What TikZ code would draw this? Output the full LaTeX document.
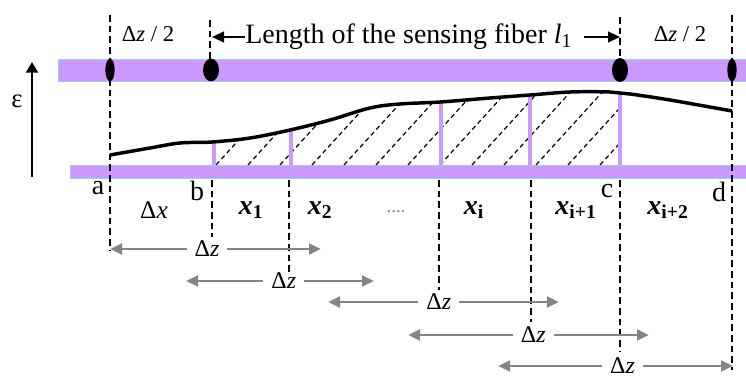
\documentclass[tikz,border=0pt]{standalone}
\usepackage{fontspec}
\setmainfont{Liberation Serif}
\usetikzlibrary{arrows.meta,shapes.geometric}
\definecolor{fib}{HTML}{CC99FF}
\definecolor{fibedge}{HTML}{99CCFF}
\definecolor{dzgray}{HTML}{858585}
\tikzset{
  bar/.style={fill=fib, draw=fibedge, line width=0.6pt},
  guide/.style={line width=1.3pt, dash pattern=on 5pt off 3pt},
  seg/.style={draw=fib, line width=2.4pt},
  hatchline/.style={line width=0.9pt, dash pattern=on 3.5pt off 2.5pt},
  dotnode/.style={ellipse, fill=black, inner sep=0pt},
  dzarrow/.style={draw=dzgray, line width=2.2pt, {Triangle[length=9pt,width=8pt]}-{Triangle[length=9pt,width=8pt]}},
  dzlabel/.style={fill=white, inner xsep=6pt, inner ysep=0pt, font=\fontsize{18}{18}\selectfont},
  lbl/.style={inner sep=0pt, font=\fontsize{21}{21}\selectfont},
  xlbl/.style={inner sep=0pt, font=\fontsize{21}{21}\selectfont\bfseries},
  halfz/.style={inner sep=0pt, font=\fontsize{17}{17}\selectfont},
  blackarrow/.style={line width=1.6pt, -{Triangle[length=9pt,width=8pt]}}
}
\begin{document}
\begin{tikzpicture}[x=0.75pt,y=-0.75pt]
\useasboundingbox (0,0) rectangle (746,379);
% bars
\draw[bar] (58,59) rectangle (746,81);
\draw[bar] (70,165) rectangle (746,178);
% hatching
\begin{scope}
  \clip (214,0) rectangle (620,165);
  \clip plot[smooth, tension=0.6] coordinates {(110,155) (150,148) (180,143) (212,142) (250,138) (290,130) (330,120) (370,108) (400,104) (440,102) (490,98) (530,95) (570,92) (610,92) (630,94) (670,100) (732,111)} -- (732,165) -- (110,165) -- cycle;
  \foreach \s in {120,152,...,620} \draw[hatchline] (\s,165) -- ++(100,-110);
\end{scope}
% purple vertical segments
\draw[seg] (214,143) -- (214,165);
\draw[seg] (291,131) -- (291,165);
\draw[seg] (441,103) -- (441,165);
\draw[seg] (530,96) -- (530,165);
\draw[seg] (620,93) -- (620,165);
% strain curve
\draw[line width=2.6pt] plot[smooth, tension=0.6] coordinates {(110,155) (150,148) (180,143) (212,142) (250,138) (290,130) (330,120) (370,108) (400,104) (440,102) (490,98) (530,95) (570,92) (610,92) (630,94) (670,100) (732,111)};
% dashed guides
\draw[guide] (110,15) -- (110,250);
\draw[guide] (210,20) -- (210,60);
\draw[guide] (212,180) -- (212,237);
\draw[guide] (289,180) -- (289,272);
\draw[guide] (439,180) -- (439,290);
\draw[guide] (531,180) -- (531,322);
\draw[guide] (620,17) -- (620,60);
\draw[guide] (620,180) -- (620,352);
\draw[guide] (732,15) -- (732,370);
% dots
\node[dotnode, minimum width=7pt, minimum height=17pt] (da) at (110,70) {};
\node[dotnode, minimum width=12pt, minimum height=17pt] (db) at (211,70) {};
\node[dotnode, minimum width=12pt, minimum height=18pt] (dc) at (620,70) {};
\node[dotnode, minimum width=7pt, minimum height=17pt] (dd) at (732,70) {};
% epsilon axis
\coordinate (eb) at (32,177);
\coordinate (et) at (32,62);
\draw[line width=1.5pt, -{Triangle[length=8pt,width=9pt]}] (eb) -- (et);
\node[inner sep=0pt, font=\fontsize{20}{20}\selectfont] (eps) at (17,101) {ε};
% top labels
\node[halfz] (hz1) at (148,34) {Δ\textit{z} / 2};
\node[halfz] (hz2) at (680,34) {Δ\textit{z} / 2};
\node[inner sep=0pt, font=\fontsize{21}{21}\selectfont, anchor=west] (len) at (245,37) {Length of the sensing fiber \textit{l}\textsubscript{1}};
\coordinate (lb) at (212,37);
\coordinate (lc) at (620,37);
\coordinate (lstart) at (584,37);
\draw[blackarrow] (len.west) -- (lb);
\draw[blackarrow] (lstart) -- (lc);
% point labels
\node[lbl] (pa) at (98,188) {a};
\node[lbl] (pb) at (197,191) {b};
\node[lbl] (pc) at (607,191) {c};
\node[lbl] (pd) at (719,192) {d};
% segment labels
\node[inner sep=0pt, font=\fontsize{19}{19}\selectfont] (ldx) at (154,210) {Δ\textit{x}};
\node[xlbl] (lx1) at (251,210) {\textit{x}\textsubscript{1}};
\node[xlbl] (lx2) at (320,210) {\textit{x}\textsubscript{2}};
\node[inner sep=0pt, text=gray, font=\fontsize{14}{14}\selectfont] (ldots) at (396,212) {....};
\node[xlbl] (lxi) at (474,210) {\textit{x}\textsubscript{i}};
\node[xlbl] (lxi1) at (576,210) {\textit{x}\textsubscript{i+1}};
\node[xlbl] (lxi2) at (668,210) {\textit{x}\textsubscript{i+2}};
% delta z arrows
\coordinate (r1l) at (110,249); \coordinate (r1r) at (321,249);
\coordinate (r2l) at (186,281); \coordinate (r2r) at (374,281);
\coordinate (r3l) at (328,302); \coordinate (r3r) at (559,302);
\coordinate (r4l) at (408,335); \coordinate (r4r) at (649,335);
\coordinate (r5l) at (498,366); \coordinate (r5r) at (733,366);
\draw[dzarrow] (r1l) -- (r1r) node[dzlabel, pos=0.46] (dz1) {Δ\textit{z}};
\draw[dzarrow] (r2l) -- (r2r) node[dzlabel, pos=0.52] (dz2) {Δ\textit{z}};
\draw[dzarrow] (r3l) -- (r3r) node[dzlabel, pos=0.48] (dz3) {Δ\textit{z}};
\draw[dzarrow] (r4l) -- (r4r) node[dzlabel, pos=0.52] (dz4) {Δ\textit{z}};
\draw[dzarrow] (r5l) -- (r5r) node[dzlabel, pos=0.53] (dz5) {Δ\textit{z}};
\end{tikzpicture}
\end{document}
